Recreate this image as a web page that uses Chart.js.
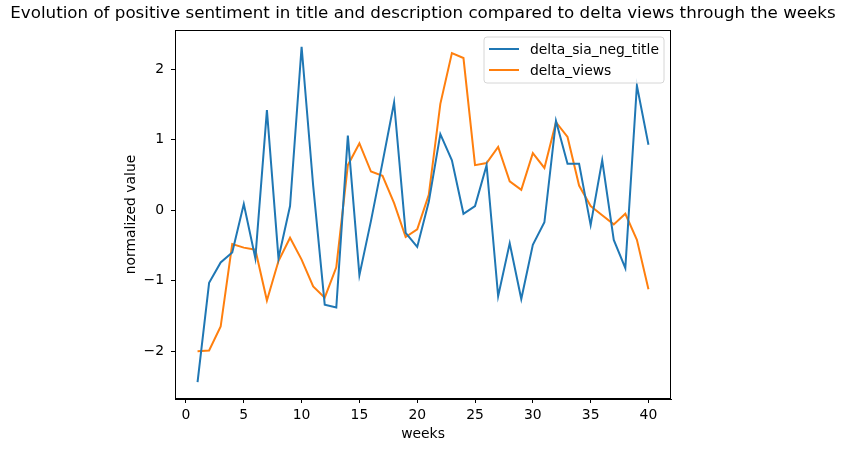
<!DOCTYPE html>
<html>
<head>
<meta charset="utf-8">
<script src="https://cdn.jsdelivr.net/npm/chart.js@4/dist/chart.umd.min.js"></script>
<style>
  html, body { margin: 0; padding: 0; background: #fff; }
</style>
</head>
<body>
<canvas id="myChart" width="845" height="453"></canvas>
<script>
// semanas e valores normalizados
const weeks = [1, 2, 3, 4, 5, 6, 7, 8, 9, 10, 11, 12, 13, 14, 15, 16, 17, 18, 19, 20,
               21, 22, 23, 24, 25, 26, 27, 28, 29, 30, 31, 32, 33, 34, 35, 36, 37, 38, 39, 40];
const deltaSiaNegTitle = [-2.44, -1.03, -0.74, -0.60, 0.09, -0.68, 1.42, -0.68, 0.06, 2.32,
                          0.35, -1.34, -1.38, 1.06, -0.92, -0.15, 0.68, 1.53, -0.32, -0.52,
                          0.12, 1.08, 0.71, -0.05, 0.06, 0.64, -1.22, -0.47, -1.26, -0.49,
                          -0.17, 1.27, 0.66, 0.66, -0.21, 0.71, -0.42, -0.82, 1.77, 0.93];
const deltaViews = [-2.00, -1.99, -1.65, -0.48, -0.53, -0.56, -1.28, -0.72, -0.39, -0.70,
                    -1.08, -1.24, -0.81, 0.64, 0.95, 0.55, 0.49, 0.10, -0.38, -0.27,
                    0.22, 1.51, 2.23, 2.16, 0.64, 0.67, 0.90, 0.41, 0.29, 0.81,
                    0.60, 1.25, 1.04, 0.35, 0.06, -0.07, -0.20, -0.05, -0.42, -1.12];
const seriesNames = ['delta_sia_neg_title', 'delta_views'];
const xTicks = [0, 5, 10, 15, 20, 25, 30, 35, 40];
const yTicks = [-2, -1, 0, 1, 2];
const chartTitle = 'Evolution of positive sentiment in title and description compared to delta views through the weeks';

const colors = ['#1f77b4', '#ff7f0e'];
const font = "'DejaVu Sans', sans-serif";

// margens de 5% como no matplotlib
const allY = deltaSiaNegTitle.concat(deltaViews);
const yMin = Math.min(...allY), yMax = Math.max(...allY);
const yPad = (yMax - yMin) * 0.05;
const xMin = Math.min(...weeks), xMax = Math.max(...weeks);
const xPad = (xMax - xMin) * 0.05;

const fmt = v => (v < 0 ? '\u2212' + Math.abs(v) : String(v));

// título e legenda desenhados por cima, estilo matplotlib
const extras = {
    id: 'extras',
    afterDraw(chart) {
        const ctx = chart.ctx;
        const a = chart.chartArea;
        ctx.save();
        // moldura completa
        ctx.strokeStyle = '#000';
        ctx.lineWidth = 1;
        ctx.strokeRect(a.left + 0.5, a.top + 0.5, a.right - a.left - 1, a.bottom - a.top - 1);

        // título
        ctx.fillStyle = '#000';
        ctx.font = '16.7px ' + font;
        ctx.textAlign = 'center';
        ctx.textBaseline = 'middle';
        ctx.fillText(chartTitle, (a.left + a.right) / 2, 14);

        // legenda
        const bx = 484, by = 37, bw = 180, bh = 46, r = 3;
        ctx.beginPath();
        ctx.moveTo(bx + r, by);
        ctx.arcTo(bx + bw, by, bx + bw, by + bh, r);
        ctx.arcTo(bx + bw, by + bh, bx, by + bh, r);
        ctx.arcTo(bx, by + bh, bx, by, r);
        ctx.arcTo(bx, by, bx + bw, by, r);
        ctx.closePath();
        ctx.fillStyle = 'rgba(255,255,255,0.8)';
        ctx.fill();
        ctx.strokeStyle = '#d6d6d6';
        ctx.stroke();

        ctx.font = '13.9px ' + font;
        ctx.textAlign = 'left';
        seriesNames.forEach((name, i) => {
            const y = 49 + i * 21;
            ctx.strokeStyle = colors[i];
            ctx.lineWidth = 2;
            ctx.beginPath();
            ctx.moveTo(489, y);
            ctx.lineTo(519, y);
            ctx.stroke();
            ctx.fillStyle = '#000';
            ctx.fillText(name, 530, y + 1);
        });
        ctx.restore();
    }
};

Chart.defaults.color = '#000';
Chart.defaults.font.family = font;
Chart.defaults.font.size = 13.9;

const ctx = document.getElementById('myChart').getContext('2d');
const myChart = new Chart(ctx, {
    type: 'line',
    data: {
        datasets: [deltaSiaNegTitle, deltaViews].map((vals, i) => ({
            label: seriesNames[i],
            data: weeks.map((w, j) => ({ x: w, y: vals[j] })),
            borderColor: colors[i],
            backgroundColor: colors[i],
            borderWidth: 2,
            pointRadius: 0,
            tension: 0
        }))
    },
    options: {
        responsive: false,
        animation: false,
        devicePixelRatio: 1,
        layout: { padding: { left: 0, right: 174, top: 30, bottom: 0 } },
        plugins: {
            legend: { display: false },
            title: { display: false },
            tooltip: { enabled: false }
        },
        scales: {
            x: {
                type: 'linear',
                min: xMin - xPad,
                max: xMax + xPad,
                afterBuildTicks: s => { s.ticks = xTicks.map(v => ({ value: v })); },
                afterFit: s => { s.height = 54; },
                ticks: { callback: fmt, padding: 4, maxRotation: 0 },
                grid: { drawOnChartArea: false, drawTicks: true, tickLength: 4, tickColor: '#000' },
                border: { display: true, color: '#000' },
                title: { display: true, text: 'weeks', padding: { top: 0, bottom: 10 } }
            },
            y: {
                type: 'linear',
                min: yMin - yPad,
                max: yMax + yPad,
                afterBuildTicks: s => { s.ticks = yTicks.map(v => ({ value: v })); },
                afterFit: s => { s.width = 175; },
                ticks: { callback: fmt, padding: 7 },
                grid: { drawOnChartArea: false, drawTicks: true, tickLength: 4, tickColor: '#000' },
                border: { display: true, color: '#000' },
                title: { display: true, text: 'normalized value', padding: { top: 123, bottom: 0 } }
            }
        }
    },
    plugins: [extras]
});
</script>
</body>
</html>
